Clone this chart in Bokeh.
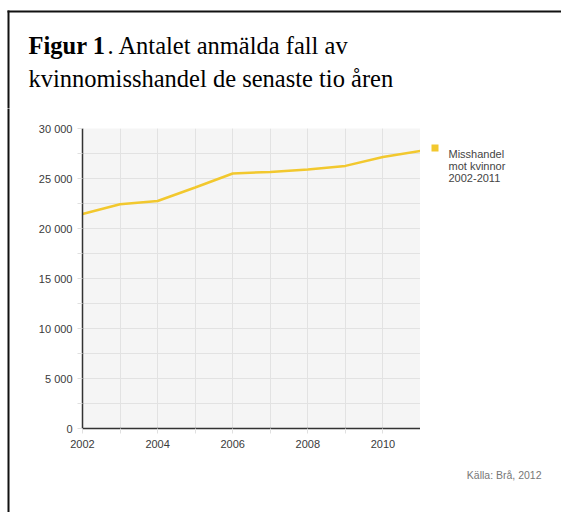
from bokeh.plotting import figure
from bokeh.models import FixedTicker, ColumnDataSource, Range1d
from bokeh.layouts import column, row
from bokeh.core.properties import value
from bokeh.embed import file_html
from bokeh.resources import INLINE

years = [2002, 2003, 2004, 2005, 2006, 2007, 2008, 2009, 2010, 2011]
cases = [21450, 22420, 22750, 24100, 25500, 25660, 25900, 26260, 27150, 27760]
y_ticks = [0, 5000, 10000, 15000, 20000, 25000, 30000]
y_tick_labels = ["0", "5 000", "10 000", "15 000", "20 000", "25 000", "30 000"]
x_ticks = [2002, 2004, 2006, 2008, 2010]
legend_lines = ["Misshandel", "mot kvinnor", "2002-2011"]
title_bold = "Figur 1"
title_rest = ". Antalet anmälda fall av"
title_line2 = "kvinnomisshandel de senaste tio åren"
source_text = "Källa: Brå, 2012"

LINE_COLOR = "#f2c82e"
W, H = 561, 512
TOP_H = 108              # height of the title strip
LEFT_W = 10              # strip holding the left frame line
FL, FT, FR, FB = 82, 128, 420, 428  # chart frame edges (page pixels)


def blank(width, height, x0, x1, y0, y1):
    f = figure(width=width, height=height,
               x_range=Range1d(x0, x1), y_range=Range1d(y1, y0),
               x_axis_type=None, y_axis_type=None,
               output_backend="svg", toolbar_location=None,
               min_border=0, min_border_left=0, min_border_right=0,
               min_border_top=0, min_border_bottom=0, frame_align=False)
    f.outline_line_color = None
    f.background_fill_color = "white"
    f.border_fill_color = "white"
    f.xgrid.visible = False
    f.ygrid.visible = False
    return f


def txt(f, x, y, t, size, color, font="Liberation Sans", style="normal",
        align="left"):
    f.text(x=[x], y=[y], text=[t], text_font=value(font),
           text_font_size=value(size), text_color=color,
           text_font_style=style, text_align=align,
           text_baseline="alphabetic")


# ---------- title strip ----------
top = blank(W, TOP_H, 0, W, 0, TOP_H)
top.quad(left=[7], right=[W + 5], top=[10], bottom=[12], fill_color="#111111",
         line_color=None)
top.quad(left=[7], right=[9], top=[10], bottom=[TOP_H + 2], fill_color="#111111",
         line_color=None)
txt(top, 28, 45, title_bold, "24.5px", "black", font="Liberation Serif",
    style="bold")
txt(top, 107, 45, title_rest, "24.5px", "black", font="Liberation Serif")
txt(top, 28, 78, title_line2, "24.5px", "black", font="Liberation Serif")

# ---------- left frame line strip ----------
ROW_H = H - TOP_H
left = blank(LEFT_W, ROW_H, 0, LEFT_W, TOP_H, H)
left.quad(left=[7], right=[9], top=[TOP_H - 2], bottom=[H + 2],
          fill_color="#111111", line_color=None)

# ---------- main chart ----------
p = figure(width=FR - LEFT_W, height=ROW_H, x_range=(2002, 2011),
           y_range=(0, 30000), output_backend="svg", toolbar_location=None,
           min_border_left=FL - LEFT_W, min_border_right=0,
           min_border_top=FT - TOP_H, min_border_bottom=H - FB,
           frame_align=False)
p.background_fill_color = "#f5f5f5"
p.border_fill_color = "white"
p.outline_line_color = None

src = ColumnDataSource(dict(x=years, y=cases))
p.line("x", "y", source=src, line_color=LINE_COLOR, line_width=2.5)

p.xaxis.ticker = FixedTicker(ticks=x_ticks, minor_ticks=years)
p.yaxis.ticker = FixedTicker(ticks=y_ticks,
                             minor_ticks=[v * 2500 for v in range(13)])
p.yaxis.major_label_overrides = {t: l for t, l in zip(y_ticks, y_tick_labels)}

for ax in (p.xaxis[0], p.yaxis[0]):
    ax.axis_line_color = "#333333"
    ax.axis_line_width = 1.5
    ax.major_tick_line_color = None
    ax.major_tick_in = 0
    ax.major_tick_out = 0
    ax.minor_tick_line_color = "#e0e0e0"
    ax.minor_tick_in = 0
    ax.minor_tick_out = 5
    ax.major_label_text_font = "Liberation Sans"
    ax.major_label_text_font_size = "11px"
    ax.major_label_text_color = "#3a3a3a"
p.yaxis.major_label_standoff = 5
p.xaxis.major_label_standoff = 6

p.xgrid.grid_line_color = "#e2e2e2"
p.xgrid.minor_grid_line_color = "#e2e2e2"
p.ygrid.grid_line_color = "#e2e2e2"
p.ygrid.minor_grid_line_color = "#e2e2e2"

# ---------- right strip: legend + source ----------
right = blank(W - FR, ROW_H, FR, W, TOP_H, H)
right.quad(left=[431], right=[438], top=[144], bottom=[151],
           fill_color=LINE_COLOR, line_color=None)
for i, t in enumerate(legend_lines):
    txt(right, 448, 153 + i * 12.3, t, "11px", "#444444")
txt(right, 541, 474, source_text, "10.5px", "#777777", align="right")

layout = column(top, row(left, p, right, spacing=0), spacing=0)
open("out.html", "w").write(file_html(layout, INLINE))
